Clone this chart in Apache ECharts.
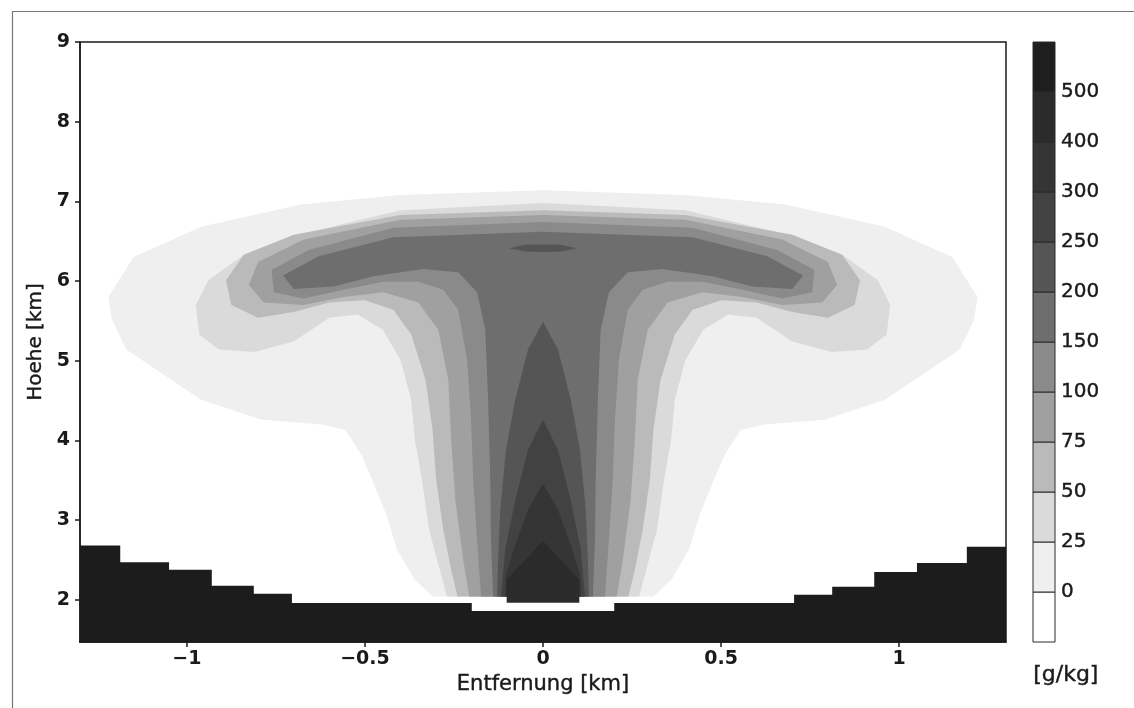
<!DOCTYPE html>
<html>
<head>
<meta charset="utf-8">
<script src="https://cdn.jsdelivr.net/npm/echarts@6/dist/echarts.min.js"></script>
<style>
  html, body { margin: 0; padding: 0; background: #ffffff; }
  #chart { width: 1134px; height: 708px; }
</style>
</head>
<body>
<div id="chart"></div>
<script>
// Axis ticks
const xTicks = [-1, -0.5, 0, 0.5, 1];
const yTicks = [2, 3, 4, 5, 6, 7, 8, 9];

// Contour levels of the mixing ratio [g/kg]
const levelLabels = ['0', '25', '50', '75', '100', '150', '200', '250', '300', '400', '500'];

// Terrain profile: step edges [km] and heights [km] of each step
const terrainEdges = [-1.3, -1.187, -1.05, -0.93, -0.812, -0.705, -0.2, 0.2, 0.705, 0.812, 0.93, 1.05, 1.19, 1.3];
const terrainHeights = [2.68, 2.47, 2.376, 2.175, 2.075, 1.96, 1.86, 1.96, 2.063, 2.163, 2.35, 2.46, 2.665];

// Closed contour outlines (right half, from the axis at the top round to the axis at the bottom), [x km, z km]
// above 0 g/kg
const above0 = [[0,7.14],[0.40,7.08],[0.68,6.96],[0.96,6.68],[1.15,6.30],[1.22,5.80],[1.21,5.51],[1.17,5.14],[0.96,4.51],[0.79,4.26],[0.62,4.20],[0.555,4.13],[0.51,3.82],[0.48,3.51],[0.44,3.07],[0.41,2.63],[0.36,2.25],[0.31,2.04],[0,2.04]];
// above 25 g/kg
const above25 = [[0,6.98],[0.40,6.89],[0.67,6.60],[0.84,6.33],[0.94,6.01],[0.975,5.70],[0.965,5.33],[0.91,5.14],[0.81,5.11],[0.70,5.24],[0.60,5.54],[0.52,5.58],[0.45,5.39],[0.40,5.01],[0.37,4.51],[0.36,4.01],[0.34,3.51],[0.32,2.88],[0.29,2.38],[0.27,2.04],[0,2.04]];
// above 50 g/kg
const above50 = [[0,6.89],[0.40,6.83],[0.70,6.58],[0.84,6.33],[0.89,6.01],[0.875,5.70],[0.80,5.54],[0.70,5.61],[0.60,5.73],[0.50,5.76],[0.42,5.64],[0.37,5.33],[0.33,4.76],[0.31,4.13],[0.30,3.51],[0.28,2.88],[0.258,2.38],[0.24,2.04],[0,2.04]];
// above 75 g/kg
const above75 = [[0,6.83],[0.40,6.77],[0.672,6.52],[0.80,6.24],[0.826,5.95],[0.784,5.73],[0.672,5.70],[0.56,5.80],[0.448,5.86],[0.35,5.73],[0.294,5.39],[0.266,4.76],[0.258,4.01],[0.246,3.25],[0.224,2.50],[0.207,2.04],[0,2.04]];
// above 100 g/kg
const above100 = [[0,6.74],[0.42,6.67],[0.658,6.39],[0.762,6.14],[0.756,5.86],[0.672,5.78],[0.56,5.89],[0.448,5.99],[0.35,5.99],[0.28,5.89],[0.238,5.64],[0.213,5.01],[0.202,4.26],[0.196,3.51],[0.185,2.75],[0.174,2.04],[0,2.04]];
// above 150 g/kg
const above150 = [[0,6.62],[0.42,6.55],[0.63,6.31],[0.73,6.07],[0.70,5.90],[0.588,5.93],[0.476,6.06],[0.336,6.15],[0.238,6.11],[0.185,5.86],[0.162,5.39],[0.154,4.51],[0.148,3.51],[0.146,2.75],[0.14,2.04],[0,2.04]];
// above 200 g/kg: thin lens in the cap and the outer arch of the column
const above200Cap = [[0,6.46],[0.05,6.455],[0.095,6.41],[0.05,6.37],[0,6.365]];
const above200Stem = [[0,5.49],[0.042,5.14],[0.078,4.51],[0.104,3.88],[0.12,3.13],[0.126,2.50],[0.129,2.04],[0,2.04]];
// above 250 g/kg
const above250Stem = [[0,4.26],[0.042,3.88],[0.078,3.25],[0.106,2.63],[0.118,2.04],[0,2.04]];
// above 300 g/kg
const above300Stem = [[0,3.455],[0.042,3.13],[0.078,2.69],[0.104,2.31],[0.107,2.04],[0,2.04]];
// above 400 g/kg
const above400Stem = [[0,2.74],[0.05,2.50],[0.102,2.25],[0.102,1.962],[0,1.962]];

// Grey shade for each band: below 0, 0-25, ..., 400-500, above 500
const bandColors = ['#ffffff', '#efefef', '#dadada', '#bababa', '#a0a0a0', '#8a8a8a', '#6e6e6e', '#555555', '#424242', '#353535', '#2b2b2b', '#1e1e1e'];

const contours = [
  { band: 1, half: above0 }, { band: 2, half: above25 }, { band: 3, half: above50 },
  { band: 4, half: above75 }, { band: 5, half: above100 }, { band: 6, half: above150 },
  { band: 7, half: above200Cap }, { band: 7, half: above200Stem },
  { band: 8, half: above250Stem }, { band: 9, half: above300Stem }, { band: 10, half: above400Stem }
];

// Symmetric outline: right half followed by its mirror image
function fullOutline(half) {
  const left = half.slice().reverse().map(p => [-p[0], p[1]]);
  return half.concat(left);
}

const Y_MIN = 1.47, Y_MAX = 9, X_MIN = -1.3, X_MAX = 1.3;

function terrainOutline() {
  const pts = [[terrainEdges[0], Y_MIN]];
  for (let i = 0; i < terrainHeights.length; i++) {
    pts.push([terrainEdges[i], terrainHeights[i]]);
    pts.push([terrainEdges[i + 1], terrainHeights[i]]);
  }
  pts.push([terrainEdges[terrainEdges.length - 1], Y_MIN]);
  return pts;
}

const FONT = 'DejaVu Sans';
const INK = '#1a1a1a';
const chart = echarts.init(document.getElementById('chart'), null, { renderer: 'canvas' });

const fmtNum = v => (v < 0 ? '\u2212' + Math.abs(v) : String(v));

chart.setOption({
  animation: false,
  backgroundColor: '#ffffff',
  grid: [
    { left: 80, top: 42, width: 926, height: 600, show: true, borderColor: INK, borderWidth: 1.5, backgroundColor: 'transparent', z: 5 },
    { left: 1033, top: 42, width: 22, height: 600, show: false }
  ],
  xAxis: [
    {
      gridIndex: 0, type: 'value', min: X_MIN, max: X_MAX,
      name: 'Entfernung [km]', nameLocation: 'middle', nameGap: 30,
      nameTextStyle: { fontFamily: FONT, fontSize: 21, color: INK, textBorderColor: INK, textBorderWidth: 0.4 },
      axisLine: { show: true, onZero: false, lineStyle: { color: INK, width: 1.5 } },
      axisTick: { show: true, length: 5, customValues: xTicks, lineStyle: { color: INK, width: 1.5 } },
      axisLabel: { customValues: xTicks, formatter: fmtNum, margin: 8, fontFamily: FONT, fontSize: 19, fontWeight: 'bold', color: INK },
      splitLine: { show: false }
    },
    { gridIndex: 1, type: 'value', min: 0, max: 1, show: false }
  ],
  yAxis: [
    {
      gridIndex: 0, type: 'value', min: Y_MIN, max: Y_MAX,
      name: 'Hoehe [km]', nameLocation: 'middle', nameGap: 32,
      nameTextStyle: { fontFamily: FONT, fontSize: 20, color: INK, textBorderColor: INK, textBorderWidth: 0.4 },
      axisLine: { show: true, onZero: false, lineStyle: { color: INK, width: 1.5 } },
      axisTick: { show: true, length: 5, customValues: yTicks, lineStyle: { color: INK, width: 1.5 } },
      axisLabel: { customValues: yTicks, formatter: fmtNum, margin: 10, fontFamily: FONT, fontSize: 19, fontWeight: 'bold', color: INK },
      splitLine: { show: false }
    },
    {
      gridIndex: 1, type: 'value', min: 0, max: 12, interval: 1, position: 'right',
      axisLine: { show: false }, axisTick: { show: false }, splitLine: { show: false },
      axisLabel: {
        margin: 6, fontFamily: FONT, fontSize: 20, color: INK, textBorderColor: INK, textBorderWidth: 0.4,
        formatter: v => (v >= 1 && v <= 11 ? levelLabels[v - 1] : '')
      }
    }
  ],
  series: [
    {
      type: 'custom', xAxisIndex: 0, yAxisIndex: 0, clip: true, silent: true, z: 1,
      data: contours.map((c, i) => [0, 5, i]),
      renderItem: (params, api) => {
        const c = contours[params.dataIndex];
        return {
          type: 'polygon',
          shape: { points: fullOutline(c.half).map(p => api.coord(p)) },
          style: { fill: bandColors[c.band], stroke: null }
        };
      }
    },
    {
      type: 'custom', xAxisIndex: 0, yAxisIndex: 0, clip: true, silent: true, z: 2,
      data: [[0, 2]],
      renderItem: (params, api) => ({
        type: 'polygon',
        shape: { points: terrainOutline().map(p => api.coord(p)) },
        style: { fill: '#1c1c1c', stroke: null }
      })
    },
    {
      type: 'custom', xAxisIndex: 1, yAxisIndex: 1, silent: true, z: 2,
      data: bandColors.map((c, i) => [0, i]),
      renderItem: (params, api) => {
        const i = params.dataIndex;
        const p0 = api.coord([0, i + 1]);
        const p1 = api.coord([1, i]);
        return {
          type: 'rect',
          shape: { x: p0[0], y: p0[1], width: p1[0] - p0[0], height: p1[1] - p0[1] },
          style: { fill: bandColors[i], stroke: '#2a2a2a', lineWidth: 1 }
        };
      }
    }
  ],
  graphic: [
    { type: 'text', left: 1033, top: 664, style: { text: '[g/kg]', fontFamily: FONT, fontSize: 22, fill: INK, stroke: INK, lineWidth: 0.4 } },
    { type: 'line', shape: { x1: 12.5, y1: 11.5, x2: 12.5, y2: 708 }, style: { stroke: '#777', lineWidth: 1.2 } },
    { type: 'line', shape: { x1: 12, y1: 11.5, x2: 1134, y2: 11.5 }, style: { stroke: '#777', lineWidth: 1.2 } }
  ]
});
</script>
</body>
</html>
